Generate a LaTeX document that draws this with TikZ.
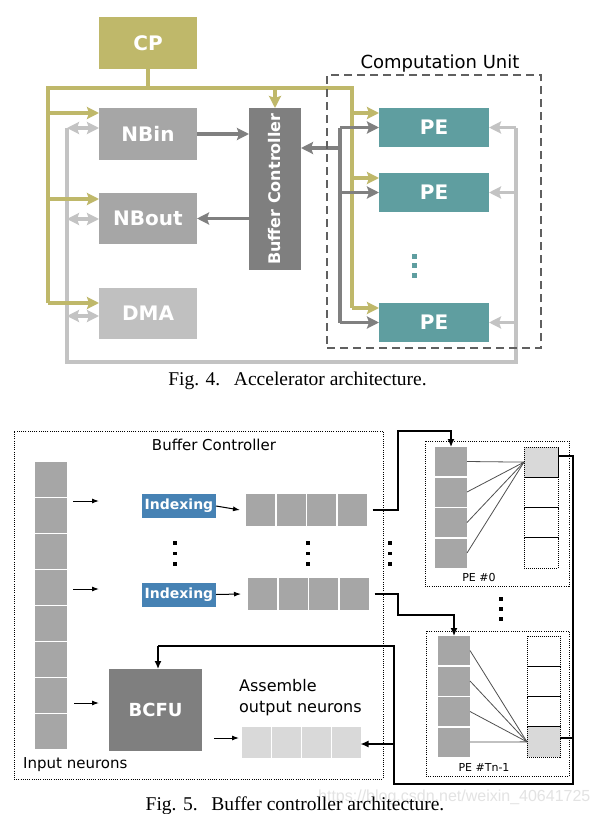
\documentclass[tikz,border=0pt]{standalone}
\usepackage{fontspec}
\setmainfont{Liberation Serif}
\newfontfamily\dv{DejaVu Sans}
\newfontfamily\lsans{Liberation Sans}
\usetikzlibrary{arrows.meta,calc}
\definecolor{olivec}{RGB}{191,184,106}
\definecolor{midg}{RGB}{166,166,166}
\definecolor{dmag}{RGB}{192,192,192}
\definecolor{bcg}{RGB}{127,127,127}
\definecolor{arrg}{RGB}{128,128,128}
\definecolor{lgc}{RGB}{195,195,195}
\definecolor{tealc}{RGB}{95,158,160}
\definecolor{idxc}{RGB}{70,130,180}
\definecolor{lightc}{RGB}{217,217,217}
\definecolor{frameg}{RGB}{96,96,96}
\definecolor{thinc}{RGB}{80,80,80}
\begin{document}
\begin{tikzpicture}[x=1pt,y=-1pt,
  topbox/.style={inner sep=0pt, outer sep=0pt, text=white, font=\dv\bfseries\fontsize{20}{24}\selectfont},
  bigtip/.tip={Stealth[length=12pt,width=12pt,inset=2pt]},
  oline/.style={draw=olivec, line width=3.4pt},
  oarr/.style={oline, -bigtip},
  gline/.style={draw=arrg, line width=3.4pt},
  garr/.style={gline, -bigtip},
  lline/.style={draw=lgc, line width=3.4pt},
  larr/.style={lline, -bigtip},
  ldarr/.style={lline, bigtip-bigtip},
  dotbox/.style={draw=black, line width=0.9pt, dash pattern=on 1pt off 1.2pt, inner sep=0pt, outer sep=0pt},
  cellg/.style={fill=midg, inner sep=0pt, outer sep=0pt},
  celll/.style={fill=lightc, inner sep=0pt, outer sep=0pt},
  outcell/.style={draw=black, line width=0.8pt, dash pattern=on 1pt off 1pt, inner sep=0pt, outer sep=0pt},
  idx/.style={fill=idxc, text=white, inner sep=0pt, outer sep=0pt, minimum width=74pt, minimum height=24pt, font=\dv\bfseries\fontsize{14}{16}\selectfont},
  sarr/.style={draw=black, line width=1pt, -{Latex[length=7pt,width=5pt]}},
  bline/.style={draw=black, line width=1.4pt},
  barr/.style={bline, -{Latex[length=8pt,width=7pt]}},
  thinl/.style={draw=thinc, line width=0.8pt},
  dotsq/.style={fill=black}
]
\useasboundingbox (0,0) rectangle (598,814);
\fill[white] (0,0) rectangle (598,814);

% ================= Fig. 4 =================
\node[topbox, fill=olivec, minimum width=98pt, minimum height=52pt] (cp) at (148,43) {CP};
\node[topbox, fill=midg, minimum width=98pt, minimum height=52pt] (nbin) at (148,134) {NBin};
\node[topbox, fill=midg, minimum width=98pt, minimum height=51pt] (nbout) at (148,218.5) {NBout};
\node[topbox, fill=dmag, minimum width=98pt, minimum height=51pt] (dma) at (148,313.5) {DMA};
\node[topbox, fill=bcg, minimum width=52pt, minimum height=162pt] (bc) at (275,189) {};
\node[rotate=90, text=white, inner sep=0pt, font=\dv\bfseries\fontsize{16}{19}\selectfont] (bct) at (bc.center) {Buffer Controller};
\node[topbox, fill=tealc, minimum width=110pt, minimum height=39pt] (pe1) at (434,127.5) {PE};
\node[topbox, fill=tealc, minimum width=110pt, minimum height=39pt] (pe2) at (434,192.5) {PE};
\node[topbox, fill=tealc, minimum width=110pt, minimum height=39pt] (pe3) at (434,322.5) {PE};
\foreach \y in {256.5,265.5,275} \fill[tealc] (412,\y-2.5) rectangle ++(5,5);

% light gray loop
\coordinate (lgTL) at (67,128);
\coordinate (lgBL) at (67,362);
\coordinate (lgBR) at (516,362);
\coordinate (lgTR) at (516,127.5);
\coordinate (lg2) at (67,219);
\coordinate (lg3) at (67,316);
\draw[lline] (lgTL) -- (lgBL) -- (lgBR) -- (lgTR);
\draw[ldarr] (lgTL) -- (lgTL -| nbin.west);
\draw[ldarr] (lg2) -- (lg2 -| nbout.west);
\draw[ldarr] (lg3) -- (lg3 -| dma.west);
\draw[larr] (lgTR) -- (pe1.east);
\draw[larr] (lgTR |- pe2.east) -- (pe2.east);
\draw[larr] (lgTR |- pe3.east) -- (pe3.east);

% olive bus
\coordinate (busL) at (48,88);
\coordinate (busR) at (352,88);
\coordinate (busLb) at (48,303);
\coordinate (busRb) at (352,308);
\coordinate (oa1) at (48,113);
\coordinate (oa2) at (48,199);
\coordinate (ob1) at (352,113);
\coordinate (ob2) at (352,178);
\draw[oline] (busLb) -- (busL) -- (busR) -- (busRb);
\draw[oline] (cp.south) -- (cp.south |- busL);
\draw[oarr] (oa1) -- (oa1 -| nbin.west);
\draw[oarr] (oa2) -- (oa2 -| nbout.west);
\draw[oarr] (busLb) -- (busLb -| dma.west);
\draw[oarr] (bc.north |- busL) -- (bc.north);
\draw[oarr] (ob1) -- (ob1 -| pe1.west);
\draw[oarr] (ob2) -- (ob2 -| pe2.west);
\draw[oarr] (busRb) -- (busRb -| pe3.west);

% dark gray data paths
\coordinate (gv1) at (340,127.5);
\coordinate (gv3) at (340,322.5);
\coordinate (gvb) at (340,148);
\draw[gline] (gv1) -- (gv3);
\draw[garr] (gv1) -- (pe1.west);
\draw[garr] (gv1 |- pe2.west) -- (pe2.west);
\draw[garr] (gv3) -- (pe3.west);
\draw[garr] (gvb) -- (gvb -| bc.east);
\draw[garr] (nbin.east) -- (nbin.east -| bc.west);
\draw[garr] (bc.west |- nbout.east) -- (nbout.east);

% computation unit frame
\node[draw=frameg, line width=2.2pt, dash pattern=on 8pt off 5pt, inner sep=0pt, minimum width=214pt, minimum height=273pt] (cu) at (434,211.5) {};
\node[font=\dv\fontsize{18}{22}\selectfont, inner sep=0pt] (cul) at (440,64) {Computation Unit};

\node[anchor=base, inner sep=0pt, font=\fontsize{19.5}{24}\selectfont] (cap4) at (297.5,385) {Fig. 4.\hspace{0.7em}Accelerator architecture.};

% ================= Fig. 5 =================
\node[dotbox, minimum width=369pt, minimum height=348pt, anchor=north west] (bcbox) at (14,431) {};
\node[font=\dv\fontsize{15}{18}\selectfont, inner sep=0pt] (bcl) at (214,445) {Buffer Controller};

\foreach \i in {0,...,7}
  \node[cellg, minimum width=32pt, minimum height=34.5pt, anchor=north west] (inp\i) at (35,{462+36*\i}) {};
\node[anchor=west, inner sep=0pt, font=\dv\fontsize{15}{18}\selectfont] (inl) at (23,765) {Input neurons};

\coordinate (s1a) at (73,501);
\coordinate (s1b) at (99,501);
\coordinate (s2a) at (73,589);
\coordinate (s2b) at (99,589);
\coordinate (s3a) at (74,703);
\coordinate (s3b) at (99,703);
\coordinate (s4a) at (214,738);
\coordinate (s4b) at (239,738);
\draw[sarr] (s1a) -- (s1b);
\draw[sarr] (s2a) -- (s2b);
\draw[sarr] (s3a) -- (s3b);
\draw[sarr] (s4a) -- (s4b);

\node[idx] (idx1) at (179,506) {Indexing};
\node[idx] (idx2) at (179,594.5) {Indexing};
\foreach \j in {0,...,3} {
  \node[cellg, minimum width=29pt, minimum height=32pt, anchor=north west] (r1\j) at ({246+30.5*\j},494) {};
  \node[cellg, minimum width=29pt, minimum height=32pt, anchor=north west] (r2\j) at ({248+30.5*\j},578) {};
}
\draw[sarr] (idx1.east) -- ([xshift=-6pt]r10.west);
\draw[sarr] (idx2.east) -- ([xshift=-7pt]r20.west);

\foreach \x in {175,308,390}
  \foreach \y in {543,553.5,564}
    \fill[dotsq] (\x-1.6,\y-1.6) rectangle ++(3.2,3.2);
\foreach \y in {599,609,619}
  \fill[dotsq] (501-1.6,\y-1.6) rectangle ++(3.2,3.2);

% PE #0
\node[dotbox, minimum width=144pt, minimum height=145pt, anchor=north west] (pe0) at (425,441) {};
\node[font=\dv\fontsize{11}{13}\selectfont, inner sep=0pt] (pe0l) at (479,577) {PE \#0};
\foreach \k in {0,...,3} {
  \node[cellg, minimum width=32pt, minimum height=29pt, anchor=north west] (pa\k) at (435,{447+30.5*\k}) {};
  \node[outcell, minimum width=34pt, minimum height=30.25pt, anchor=north west] (pao\k) at (524,{447+30.25*\k}) {};
}
\fill[lightc] (pao0.north west) rectangle (pao0.south east);
\draw[outcell] (pao0.north west) rectangle (pao0.south east);
\foreach \k in {0,...,3} \draw[thinl] (pa\k.east) -- (pao0.west);

% PE #Tn-1
\node[dotbox, minimum width=143pt, minimum height=145pt, anchor=north west] (pen) at (426,631) {};
\node[font=\dv\fontsize{11}{13}\selectfont, inner sep=0pt] (penl) at (484,767) {PE \#Tn-1};
\foreach \k in {0,...,3} {
  \node[cellg, minimum width=32pt, minimum height=29pt, anchor=north west] (pb\k) at (438,{636+30.5*\k}) {};
  \node[outcell, minimum width=33pt, minimum height=30.25pt, anchor=north west] (pbo\k) at (527,{636+30.25*\k}) {};
}
\fill[lightc] (pbo3.north west) rectangle (pbo3.south east);
\draw[outcell] (pbo3.north west) rectangle (pbo3.south east);
\foreach \k in {0,...,3} \draw[thinl] (pb\k.east) -- (pbo3.west);

% connectors to PEs
\coordinate (k1) at (398,431);
\coordinate (k2) at (398,615);
\draw[barr] ([xshift=6pt]r13.east) -| (k1) -| (pa0.north);
\draw[barr] ([xshift=6pt]r23.east) -| (k2) -| (pb0.north);

% BCFU and assembled output
\node[topbox, fill=bcg, minimum width=93pt, minimum height=82pt, font=\dv\bfseries\fontsize{18}{22}\selectfont] (bcfu) at (155.5,710) {BCFU};
\node[anchor=west, inner sep=0pt, align=left, font=\dv\fontsize{16}{21}\selectfont] (asm) at (239,697.5) {Assemble\\output neurons};
\foreach \j in {0,...,3}
  \node[celll, minimum width=28.5pt, minimum height=31pt, anchor=north west] (a\j) at ({242+30*\j},727) {};

% feedback path
\coordinate (rv) at (573,784);
\coordinate (lv) at (394,784);
\coordinate (lvt) at (394,646);
\coordinate (bt) at (158,646);
\coordinate (la) at (394,744);
\draw[bline] ([yshift=6pt]pao0.east) -| (rv) -- (lv) -- (lvt) -- (bt);
\draw[barr] (bt) -- (bt |- bcfu.north);
\draw[bline] ([yshift=4pt]pbo3.east) -- ([yshift=4pt]pbo3.east -| rv);
\draw[barr] (la) -- (la -| a3.east);

% watermark and caption
\node[anchor=west, inner sep=0pt, text=gray!22, font=\lsans\fontsize{16}{19}\selectfont] (wm) at (318,797) {https://blog.csdn.net/weixin\_40641725};
\node[anchor=base, inner sep=0pt, font=\fontsize{19.5}{24}\selectfont] (cap5) at (295,810) {Fig. 5.\hspace{0.7em}Buffer controller architecture.};
\end{tikzpicture}
\end{document}
